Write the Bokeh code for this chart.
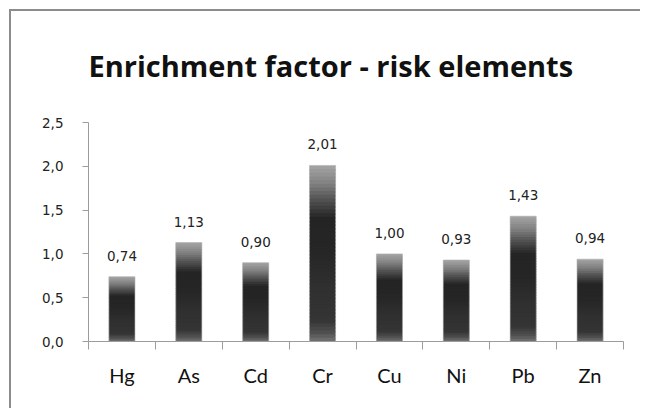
from bokeh.plotting import figure
from bokeh.models import Range1d, FixedTicker, LinearAxis, CustomJSTickFormatter, ColumnDataSource
from bokeh.core.properties import value
from bokeh.embed import file_html
from bokeh.resources import INLINE

# ---- data ----
elements = ["Hg", "As", "Cd", "Cr", "Cu", "Ni", "Pb", "Zn"]
enrichment = [0.74, 1.13, 0.90, 2.01, 1.00, 0.93, 1.43, 0.94]
value_labels = ["0,74", "1,13", "0,90", "2,01", "1,00", "0,93", "1,43", "0,94"]
y_ticks = [0.0, 0.5, 1.0, 1.5, 2.0, 2.5]
title_text = "Enrichment factor - risk elements"

# ---- style: vertical gradient stops (t from top=0 to bottom=1, grey level) ----
grad_t = [0.0, 0.1, 0.2, 0.3, 0.5, 0.7, 0.88, 0.95, 1.0]
grad_g = [165, 130, 80, 36, 38, 48, 52, 80, 115]
N_SLICES = 48
BAR_W = 0.39

W, H = 640, 408


def grey_at(t):
    for i in range(len(grad_t) - 1):
        if grad_t[i] <= t <= grad_t[i + 1]:
            f = (t - grad_t[i]) / (grad_t[i + 1] - grad_t[i])
            g = int(round(grad_g[i] + f * (grad_g[i + 1] - grad_g[i])))
            return "#%02x%02x%02x" % (g, g, g)
    g = grad_g[-1]
    return "#%02x%02x%02x" % (g, g, g)


xs = [i + 0.5 for i in range(len(elements))]
bounds = list(range(len(elements) + 1))

sx, stop, sbot, scol = [], [], [], []
for x, v in zip(xs, enrichment):
    for k in range(N_SLICES):
        t0 = k / N_SLICES
        t1 = (k + 1) / N_SLICES
        sx.append(x)
        stop.append(v * (1 - t0))
        sbot.append(max(0.0, v * (1 - t1) - v * 0.6 / N_SLICES))
        scol.append(grey_at((t0 + t1) / 2))

p = figure(width=W, height=H, output_backend="svg", toolbar_location=None,
           x_range=Range1d(0, len(elements)), y_range=Range1d(0, 2.5),
           min_border_left=88, min_border_right=W - 623, min_border_top=122, min_border_bottom=H - 341,
           x_axis_location=None, y_axis_location=None)
p.outline_line_color = None
p.xgrid.visible = False
p.ygrid.visible = False
p.background_fill_color = "white"
p.border_fill_color = None
# chart-area frame: left and top edges (right/bottom lie outside the view)
p.styles = {"box-shadow": "inset 9px 9px 0 0 #ffffff, inset 11px 11px 0 0 #8c8c8c",
            "background-color": "#ffffff"}

# title
p.title.text = title_text
p.title.text_font = "Open Sans"
p.title.text_font_style = "bold"
p.title.text_font_size = "29px"
p.title.text_color = "#111111"
p.title.align = "left"
p.title.offset = 0
p.title.standoff = 75

# bars as gradient slices
src = ColumnDataSource(dict(x=sx, top=stop, bottom=sbot, color=scol))
p.vbar(x="x", top="top", bottom="bottom", width=BAR_W, source=src,
       fill_color="color", line_color=None)
p.vbar(x=xs, top=enrichment, bottom=0, width=BAR_W, fill_color=None,
       line_color="#b0b0b0", line_width=1, line_alpha=0.6)

# value labels
p.text(x=xs, y=enrichment, text=value_labels, text_align="center", text_baseline="alphabetic",
       y_offset=-21, text_font=value("DejaVu Sans"), text_font_size="13.5px", text_color="#222222")

AX = "#9c9c9c"

# y axis
yax = LinearAxis(ticker=FixedTicker(ticks=y_ticks, minor_ticks=[]),
                 formatter=CustomJSTickFormatter(code="return tick.toFixed(1).replace('.', ',');"))
yax.axis_line_color = AX
yax.major_tick_line_color = AX
yax.major_tick_in = 0
yax.major_tick_out = 6
yax.minor_tick_line_color = None
yax.major_label_standoff = 19
yax.major_label_text_font = "DejaVu Sans"
yax.major_label_text_font_size = "13.5px"
yax.major_label_text_color = "#222222"
p.add_layout(yax, "left")

# x axis: category labels at centres, boundary ticks as minor ticks
xax = LinearAxis(ticker=FixedTicker(ticks=xs, minor_ticks=bounds),
                 major_label_overrides={x: e for x, e in zip(xs, elements)})
xax.axis_line_color = AX
xax.major_tick_line_color = None
xax.major_tick_in = 0
xax.major_tick_out = 0
xax.minor_tick_line_color = AX
xax.minor_tick_in = 0
xax.minor_tick_out = 8
xax.major_label_standoff = 13
xax.major_label_text_font = "Lato"
xax.major_label_text_font_size = "20px"
xax.major_label_text_color = "#111111"
p.add_layout(xax, "below")

open("out.html", "w").write(file_html(p, INLINE))
